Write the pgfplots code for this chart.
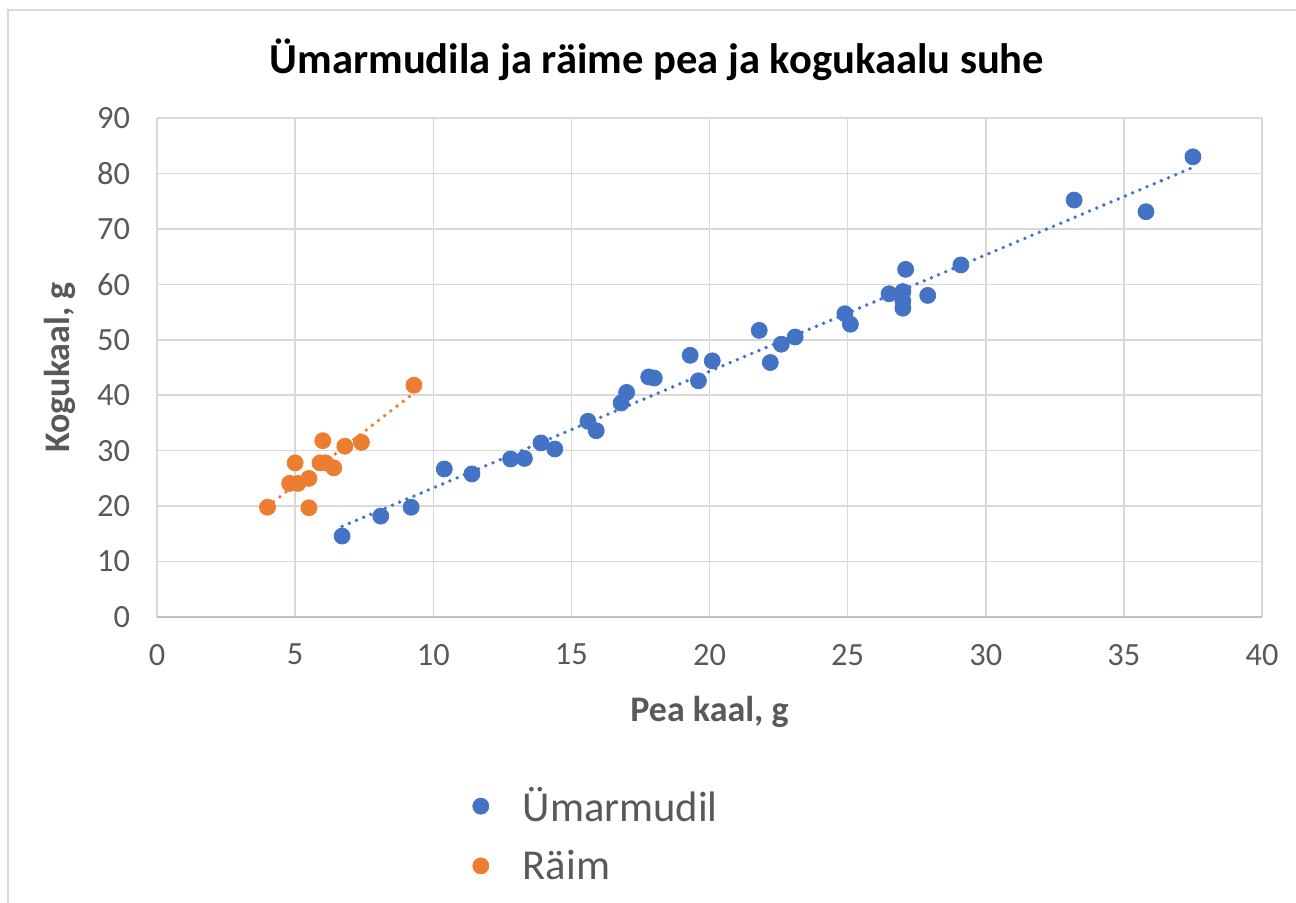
\documentclass[border=0pt]{standalone}
\usepackage{pgfplots}
\usepackage{pgfplotstable}
\pgfplotsset{compat=1.18}
\usepackage{fontspec}
\setmainfont{Carlito}
\definecolor{cblue}{HTML}{4472C4}
\definecolor{corange}{HTML}{ED7D31}
\definecolor{gridc}{HTML}{D9D9D9}
\definecolor{txt}{HTML}{595959}

\pgfplotstableread{
x y
6.7 14.6
8.1 18.2
9.2 19.8
10.4 26.7
11.4 25.8
12.8 28.5
13.3 28.6
13.9 31.4
14.4 30.3
15.6 35.3
15.9 33.6
16.8 38.6
17.0 40.5
17.8 43.3
18.0 43.1
19.3 47.2
19.6 42.6
20.1 46.2
21.8 51.7
22.2 45.9
22.6 49.2
23.1 50.5
24.9 54.7
25.1 52.8
26.5 58.3
27.0 58.7
27.0 57.0
27.0 55.7
27.1 62.7
27.9 58.0
29.1 63.5
33.2 75.2
35.8 73.1
37.5 83.0
}\gobydata

\pgfplotstableread{
x y
4.0 19.8
4.8 24.1
5.0 27.8
5.1 24.1
5.5 25.0
5.5 19.7
5.9 27.8
6.0 31.8
6.1 27.8
6.4 26.9
6.8 30.8
7.4 31.5
9.3 41.8
}\herringdata

\pgfplotstablecreatecol[linear regression={x=x,y=y}]{fit}{\gobydata}
\pgfplotstablecreatecol[linear regression={x=x,y=y}]{fit}{\herringdata}

\begin{document}
\begin{tikzpicture}
\path[use as bounding box] (0pt,0pt) rectangle (648pt,451pt);
\draw[color=gridc, line width=1pt] (4pt,-2pt) -- (4pt,446pt) -- (650pt,446pt);
\begin{axis}[
  at={(78.5pt,142.5pt)}, anchor=south west,
  scale only axis, width=552.5pt, height=249.5pt,
  xmin=0, xmax=40, ymin=0, ymax=90,
  xtick={0,5,...,40}, ytick={0,10,...,90},
  grid=major, grid style={color=gridc, line width=0.75pt},
  axis line style={draw=none},
  major tick length=0pt,
  /pgf/number format/assume math mode=true,
  ticklabel style={font=\fontsize{16.2}{19}\selectfont, text=txt},
  yticklabel style={xshift=-10pt},
  xticklabel style={yshift=-10pt},
  extra y ticks={0}, extra y tick labels={},
  extra y tick style={grid style={color=black!25, line width=0.9pt}},
  xlabel={Pea kaal, g},
  ylabel={Kogukaal, g},
  xlabel style={font=\bfseries\fontsize{18}{21}\selectfont, text=txt, at={(axis description cs:0.5,-0.19)}, anchor=center},
  ylabel style={font=\bfseries\fontsize{18}{21}\selectfont, text=txt, at={(axis description cs:-0.088,0.5)}, anchor=center},
  legend style={at={(axis description cs:0.28,-0.325)}, anchor=north west, draw=none, fill=none,
    font=\fontsize{21.3}{25}\selectfont, text=txt, row sep=8.5pt},
  legend cell align=left,
  legend image code/.code={\draw[#1] plot coordinates {(0pt,0pt)}; \path[draw=none,fill=none] (-4pt,0pt) -- (19pt,0pt);},
]
\addplot[cblue, only marks, mark=*, mark size=4pt, mark options={fill=cblue, draw=none}] table[x=x,y=y]{\gobydata};
\addlegendentry{Ümarmudil}
\addplot[corange, only marks, mark=*, mark size=4pt, mark options={fill=corange, draw=none}] table[x=x,y=y]{\herringdata};
\addlegendentry{Räim}
\addplot[forget plot, cblue, line width=1.9pt, dash pattern=on 0pt off 3.9pt, line cap=round] table[x=x,y=fit]{\gobydata};
\addplot[forget plot, corange, line width=1.9pt, dash pattern=on 0pt off 3.9pt, line cap=round] table[x=x,y=fit]{\herringdata};
\end{axis}
\node[font=\bfseries\fontsize{21.3}{25}\selectfont, text=black] at (328.5pt,421pt) {Ümarmudila ja räime pea ja kogukaalu suhe};
\end{tikzpicture}
\end{document}
